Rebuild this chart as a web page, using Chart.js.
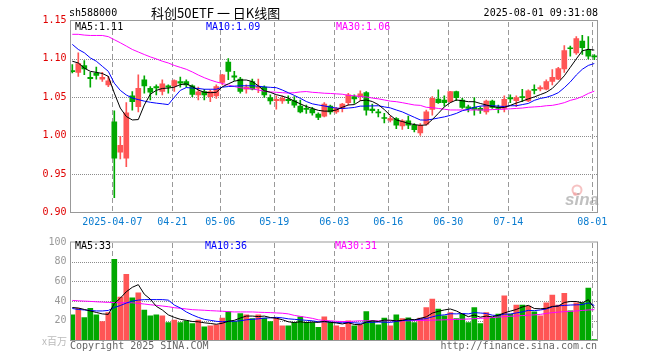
<!DOCTYPE html>
<html>
<head>
<meta charset="utf-8">
<script src="https://cdn.jsdelivr.net/npm/chart.js@4.4.1/dist/chart.umd.min.js"></script>
<style>
  html, body { margin: 0; padding: 0; background: #fff; }
  #wrap { position: relative; width: 660px; height: 360px; overflow: hidden; }
  canvas { position: absolute; left: 0; }
  #kline { top: 0; }
  #volume { top: 232px; }
</style>
</head>
<body>
<div id="wrap">
  <canvas id="kline" width="660" height="232"></canvas>
  <canvas id="volume" width="660" height="128"></canvas>
</div>
<script>
const symbol = 'sh588000';
const title = '科创50ETF 一 日K线图';
const stamp = '2025-08-01 09:31:08';

const dates = [
  '2025-03-26', '2025-03-27', '2025-03-28', '2025-03-31', '2025-04-01', '2025-04-02', '2025-04-03', '2025-04-07', '2025-04-08', '2025-04-09',
  '2025-04-10', '2025-04-11', '2025-04-14', '2025-04-15', '2025-04-16', '2025-04-17', '2025-04-18', '2025-04-21', '2025-04-22', '2025-04-23',
  '2025-04-24', '2025-04-25', '2025-04-28', '2025-04-29', '2025-04-30', '2025-05-06', '2025-05-07', '2025-05-08', '2025-05-09', '2025-05-12',
  '2025-05-13', '2025-05-14', '2025-05-15', '2025-05-16', '2025-05-19', '2025-05-20', '2025-05-21', '2025-05-22', '2025-05-23', '2025-05-26',
  '2025-05-27', '2025-05-28', '2025-05-29', '2025-05-30', '2025-06-03', '2025-06-04', '2025-06-05', '2025-06-06', '2025-06-09', '2025-06-10',
  '2025-06-11', '2025-06-12', '2025-06-13', '2025-06-16', '2025-06-17', '2025-06-18', '2025-06-19', '2025-06-20', '2025-06-23', '2025-06-24',
  '2025-06-25', '2025-06-26', '2025-06-27', '2025-06-30', '2025-07-01', '2025-07-02', '2025-07-03', '2025-07-04', '2025-07-07', '2025-07-08',
  '2025-07-09', '2025-07-10', '2025-07-11', '2025-07-14', '2025-07-15', '2025-07-16', '2025-07-17', '2025-07-18', '2025-07-21', '2025-07-22',
  '2025-07-23', '2025-07-24', '2025-07-25', '2025-07-28', '2025-07-29', '2025-07-30', '2025-07-31', '2025-08-01'
];

const opens = [
  1.0845, 1.0825, 1.0912, 1.0759, 1.0816, 1.0737, 1.0662, 1.018, 0.9785, 0.9706,
  1.0518, 1.0377, 1.0728, 1.0618, 1.064, 1.0575, 1.0649, 1.0649, 1.0706, 1.0706,
  1.0649, 1.053, 1.0575, 1.0509, 1.0518, 1.0693, 1.096, 1.0781, 1.0737, 1.0605,
  1.0706, 1.0618, 1.0632, 1.0496, 1.0456, 1.0452, 1.0474, 1.0456, 1.0386, 1.0355,
  1.0346, 1.028, 1.0254, 1.0386, 1.0311, 1.0355, 1.043, 1.0509, 1.0509, 1.0561,
  1.0346, 1.0311, 1.0237, 1.0202, 1.0224, 1.0127, 1.0193, 1.0136, 1.0035, 1.0149,
  1.0342, 1.0478, 1.0465, 1.0443, 1.0575, 1.0465, 1.0377, 1.0368, 1.0355, 1.0311,
  1.0452, 1.0368, 1.0355, 1.0496, 1.0456, 1.0509, 1.0452, 1.0605, 1.061, 1.0605,
  1.0706, 1.0737, 1.0868, 1.1145, 1.1079, 1.1232, 1.1114, 1.1035
];
const highs = [
  1.0925, 1.1079, 1.0978, 1.0825, 1.0895, 1.0825, 1.0772, 1.0325, 0.9991, 1.043,
  1.0575, 1.0794, 1.0781, 1.064, 1.0662, 1.0728, 1.0662, 1.0728, 1.0763, 1.0728,
  1.0662, 1.0632, 1.0605, 1.0597, 1.0662, 1.0798, 1.1004, 1.0838, 1.0759, 1.0662,
  1.0737, 1.0737, 1.0649, 1.0531, 1.0518, 1.0518, 1.0518, 1.0509, 1.0465, 1.0399,
  1.0368, 1.0298, 1.043, 1.0399, 1.0368, 1.0421, 1.0553, 1.0531, 1.0583, 1.0575,
  1.0412, 1.0342, 1.029, 1.0254, 1.0237, 1.021, 1.0254, 1.0158, 1.0158, 1.0333,
  1.0509, 1.0597, 1.0518, 1.0578, 1.058, 1.0487, 1.0399, 1.0496, 1.0377, 1.0465,
  1.0465, 1.0399, 1.0518, 1.0531, 1.0518, 1.0605, 1.0597, 1.0662, 1.0649, 1.0728,
  1.086, 1.089, 1.1175, 1.1167, 1.129, 1.1307, 1.129, 1.1057
];
const lows = [
  1.0816, 1.0772, 1.0794, 1.0632, 1.0737, 1.0706, 1.064, 0.9193, 0.9697, 0.9597,
  1.0333, 1.0311, 1.0553, 1.0465, 1.0531, 1.0531, 1.0553, 1.0575, 1.0632, 1.0632,
  1.0509, 1.0465, 1.0465, 1.0443, 1.0487, 1.0662, 1.0728, 1.072, 1.0553, 1.0553,
  1.0597, 1.0561, 1.05, 1.0412, 1.0346, 1.0421, 1.0421, 1.0368, 1.0298, 1.029,
  1.0268, 1.021, 1.0246, 1.0281, 1.029, 1.0311, 1.0399, 1.0421, 1.0456, 1.0268,
  1.0298, 1.0246, 1.0167, 1.018, 1.0092, 1.0083, 1.0092, 1.0048, 1.0004, 1.0136,
  1.0268, 1.0421, 1.0386, 1.043, 1.0456, 1.0355, 1.0311, 1.0268, 1.029, 1.0281,
  1.0355, 1.0298, 1.0311, 1.043, 1.0377, 1.0443, 1.0443, 1.0544, 1.0583, 1.0597,
  1.0662, 1.0728, 1.0825, 1.1035, 1.1057, 1.1057, 1.1, 1.0991
];
const closes = [
  1.0835, 1.0939, 1.0868, 1.0741, 1.0785, 1.0759, 1.0715, 0.9706, 0.9873, 1.0298,
  1.0443, 1.0618, 1.0649, 1.0566, 1.0623, 1.0675, 1.0632, 1.0719, 1.0684, 1.0662,
  1.0539, 1.057, 1.0531, 1.0575, 1.064, 1.0794, 1.0838, 1.0763, 1.0575, 1.0632,
  1.0605, 1.064, 1.0531, 1.0452, 1.0474, 1.0487, 1.0456, 1.0399, 1.0311, 1.0342,
  1.0298, 1.0237, 1.0412, 1.0311, 1.0355, 1.0412, 1.0531, 1.0478, 1.0544, 1.0333,
  1.0325, 1.0298, 1.0224, 1.0224, 1.0136, 1.0193, 1.0136, 1.0079, 1.0136, 1.0311,
  1.0487, 1.043, 1.043, 1.0575, 1.0496, 1.0368, 1.0355, 1.0342, 1.0333, 1.0452,
  1.0368, 1.0355, 1.0474, 1.0478, 1.0496, 1.0496, 1.0583, 1.0588, 1.0627, 1.0706,
  1.0759, 1.0873, 1.1109, 1.1132, 1.1263, 1.1145, 1.1035, 1.1026
];

// moving averages as drawn on the chart
const ma5 = [
  1.097, 1.0947, 1.088, 1.0838, 1.0825, 1.081, 1.0773, 1.0555, 1.036, 1.025,
  1.0205, 1.021, 1.040, 1.054, 1.059, 1.0615, 1.062, 1.0632, 1.0665, 1.0675,
  1.064, 1.0595, 1.0565, 1.056, 1.0565, 1.0636, 1.0675, 1.071, 1.0725, 1.0725,
  1.0705, 1.065, 1.0585, 1.0565, 1.0535, 1.0515, 1.049, 1.045, 1.0415, 1.038,
  1.0355, 1.033, 1.032, 1.032, 1.0335, 1.037, 1.040, 1.0405, 1.0455, 1.0465,
  1.0445, 1.0405, 1.034, 1.0265, 1.0205, 1.0185, 1.016, 1.0145, 1.0135, 1.014,
  1.021, 1.029, 1.0375, 1.043, 1.0465, 1.0455, 1.0443, 1.0443, 1.042, 1.040,
  1.038, 1.0368, 1.0368, 1.0395, 1.0425, 1.045, 1.048, 1.0505, 1.0535, 1.0565,
  1.0615, 1.0695, 1.078, 1.089, 1.1, 1.1105, 1.1125, 1.1115
];
const ma10 = [
  1.1189, 1.1123, 1.108, 1.1013, 1.097, 1.0904, 1.0838, 1.0684, 1.059, 1.053,
  1.049, 1.047, 1.045, 1.0435, 1.0424, 1.0415, 1.0405, 1.050, 1.059, 1.0627,
  1.062, 1.0615, 1.0605, 1.0605, 1.0605, 1.0632, 1.064, 1.0645, 1.065, 1.065,
  1.065, 1.0645, 1.0635, 1.063, 1.0625, 1.0595, 1.056, 1.0525, 1.0487, 1.0445,
  1.0415, 1.040, 1.0387, 1.0373, 1.036, 1.0354, 1.036, 1.0368, 1.0385, 1.0386,
  1.0388, 1.039, 1.0375, 1.0362, 1.0335, 1.031, 1.0275, 1.024, 1.0205, 1.0203,
  1.0215, 1.023, 1.0245, 1.0265, 1.029, 1.0325, 1.0345, 1.037, 1.0385, 1.039,
  1.039, 1.0385, 1.038, 1.039, 1.039, 1.0405, 1.042, 1.046, 1.0485, 1.050,
  1.0525, 1.056, 1.0625, 1.070, 1.079, 1.0865, 1.0915, 1.094
];
const ma30 = [
  1.132, 1.132, 1.131, 1.1305, 1.1305, 1.1305, 1.129, 1.125, 1.121, 1.1167,
  1.1123, 1.109, 1.1057, 1.1026, 1.10, 1.097, 1.0947, 1.0915, 1.089, 1.0865,
  1.083, 1.079, 1.0755, 1.0725, 1.070, 1.068, 1.066, 1.064, 1.0625, 1.0615,
  1.061, 1.0595, 1.058, 1.057, 1.0565, 1.056, 1.0555, 1.056, 1.057, 1.0575,
  1.0565, 1.056, 1.0553, 1.055, 1.0545, 1.054, 1.0525, 1.052, 1.051, 1.0505,
  1.049, 1.048, 1.0465, 1.045, 1.0443, 1.043, 1.0415, 1.040, 1.0395, 1.037,
  1.0365, 1.0355, 1.0345, 1.0335, 1.0335, 1.0335, 1.0335, 1.0335, 1.0335, 1.0335,
  1.034, 1.0342, 1.0345, 1.035, 1.0355, 1.036, 1.037, 1.0375, 1.038, 1.039,
  1.0395, 1.041, 1.043, 1.046, 1.048, 1.051, 1.055, 1.058
];

// volume, millions
const volumes = [
  26, 32.7, 23.3, 32.7, 26, 19.3, 28.3, 82.3, 44, 67.3,
  43.3, 48.3, 31, 25, 26, 25, 18.3, 20.7, 18.3, 20,
  17.3, 20.7, 14, 15, 16, 22.7, 29.3, 19.3, 27.3, 26,
  22.3, 26, 22.7, 19.3, 22.7, 15, 15, 18.3, 24, 18.3,
  18.3, 13.3, 24, 18.3, 15, 13.3, 20, 15, 16, 29.3,
  20, 16, 22.7, 15, 26, 22.3, 23, 18.3, 22.7, 33.3,
  42, 32, 25, 28.3, 22.3, 26.7, 18.3, 33.3, 17.3, 28.3,
  22.7, 26.7, 45.3, 26.7, 36, 36, 35, 29, 25, 38.3,
  46, 36, 48, 30, 38.3, 38.3, 53.3, 1
];
const volMa5 = [
  33.5, 33, 31.5, 30, 28.5, 27, 26.5, 37.5, 43, 49.5,
  54, 56.7, 47, 42, 34.7, 31, 26, 23.5, 21.5, 20.5,
  19.3, 19, 18, 17.3, 16.5, 17.5, 19.5, 20.5, 22.8, 24.8,
  24.8, 24.3, 24.8, 23.3, 22.6, 21.1, 19, 18.2, 19, 18.2,
  18.7, 18.4, 19.5, 18.4, 17.8, 16.8, 18, 16.3, 16, 18.7,
  20, 19.3, 20.7, 20.6, 20, 20.4, 21.9, 21, 22.5, 24,
  27.8, 29.6, 31, 32, 30, 27, 24.2, 25.8, 23.7, 24.8,
  24, 25.6, 28, 29.8, 31.5, 34, 35.7, 32.5, 32.2, 32.7,
  34.6, 34.9, 38.6, 39.6, 39.6, 38.1, 41.5, 32.8
];
const volMa10 = [
  32.5, 31.5, 31, 30.5, 30, 30, 30.5, 33.5, 35.5, 38,
  40, 41, 41.5, 41.5, 41.5, 41.5, 41, 36, 33, 29,
  26, 23.5, 21.5, 20.5, 19.5, 19, 19.5, 19.5, 20, 21,
  21.5, 22, 22.7, 23, 23.5, 23, 22, 21.5, 21, 20.5,
  20, 19, 19, 18.8, 18.2, 18, 18.3, 18, 17.5, 18.3,
  18.5, 18.7, 18.6, 18.4, 19.3, 20.2, 20.6, 21, 21.6, 22.2,
  24, 25.5, 26, 27.2, 27, 27.4, 27, 28.3, 27.9, 27.4,
  25.7, 25.2, 26.8, 26.8, 28, 29, 30.6, 30.3, 31, 32,
  34.2, 35.2, 35.6, 36, 36.2, 36.4, 38.2, 35.6
];
const volMa30 = [
  40.7, 40.3, 40, 39.7, 39.3, 39, 38.7, 38.5, 38.3, 38.3,
  38.3, 37.7, 37, 36.3, 35.7, 35, 34.3, 33.3, 32.7, 32,
  31.3, 31, 30.7, 30.3, 30, 29.7, 29.3, 29, 29, 29,
  29, 28.7, 28.5, 28.3, 28, 27.7, 27, 25.5, 24.5, 23.5,
  22.5, 21, 20.3, 20, 19.5, 19.3, 19.3, 19.7, 20, 20,
  20, 20, 20, 20, 20, 20, 20, 20.2, 20.3, 20.5,
  20.7, 20.8, 21, 21.2, 21.4, 21.6, 21.8, 22.2, 22.5, 22.8,
  23.3, 23.8, 24.2, 24.6, 25, 25.3, 25.7, 26, 26.5, 27.5,
  28.3, 28.8, 29.3, 29.6, 30, 30.5, 31, 31.3
];

const priceTicks = [0.90, 0.95, 1.00, 1.05, 1.10, 1.15];
const volumeTicks = [0, 20, 40, 60, 80, 100];
const dateTicks = ['2025-04-07', '2025-04-21', '2025-05-06', '2025-05-19', '2025-06-03', '2025-06-16', '2025-06-30', '2025-07-14', '2025-08-01'];

const UP = '#ff5555';
const DOWN = '#00a800';
const MONO = '"DejaVu Sans Mono", monospace';
const tickIndex = dateTicks.map(d => dates.indexOf(d));
const candleColors = closes.map((c, i) => (c >= opens[i] ? UP : DOWN));

Chart.defaults.font.family = MONO;
Chart.defaults.font.size = 10;
Chart.defaults.animation = false;

function xAxis(showLabels) {
    return {
        type: 'linear',
        min: -0.3,
        max: 87.533,
        offset: false,
        display: true,
        grid: { display: false, drawTicks: false, offset: false },
        border: { display: false },
        afterBuildTicks: s => { s.ticks = tickIndex.map(v => ({ value: v })); },
        afterFit: s => { s.height = showLabels ? 19.5 : 0; },
        ticks: {
            display: showLabels,
            color: '#0a7cd0',
            padding: 4,
            labelOffset: -2,
            maxRotation: 0,
            autoSkip: false,
            callback: (v, i) => (i === 0 ? dates[v] : dates[v].slice(5))
        }
    };
}

function maLine(values, color) {
    return {
        type: 'line',
        data: values.map((v, i) => ({ x: i, y: v })),
        borderColor: color,
        borderWidth: 1,
        pointRadius: 0,
        tension: 0,
        order: 0
    };
}

// dotted rows at the value ticks, dashed columns at the date ticks
function drawGrid(ctx, area, xs, ys, yValues) {
    const left = Math.ceil(area.left);
    const right = Math.floor(area.right);
    const top = Math.ceil(area.top);
    const bottom = Math.floor(area.bottom);
    ctx.save();
    ctx.fillStyle = '#8c8c8c';
    yValues.forEach(v => {
        const py = Math.round(ys.getPixelForValue(v));
        for (let px = left + 1; px < right; px += 2) ctx.fillRect(px, py, 1, 1);
    });
    ctx.fillStyle = '#999';
    xs.ticks.forEach(t => {
        const px = Math.round(xs.getPixelForValue(t.value) - 2);
        for (let py = top + 1; py < bottom; py += 8) ctx.fillRect(px, py, 1, Math.min(5, bottom - py));
    });
    ctx.restore();
}

function drawBox(ctx, area) {
    ctx.save();
    ctx.strokeStyle = '#999';
    ctx.lineWidth = 1;
    ctx.strokeRect(area.left, area.top, area.right - area.left, area.bottom - area.top);
    ctx.restore();
}

function text(ctx, str, x, y, color, align, font) {
    ctx.fillStyle = color;
    ctx.textAlign = align || 'left';
    ctx.textBaseline = 'middle';
    ctx.font = font || '10px ' + MONO;
    ctx.fillText(str, x, y);
}

const klineDecor = {
    id: 'klineDecor',
    beforeDatasetsDraw(chart) {
        const { ctx, chartArea, scales } = chart;
        drawGrid(ctx, chartArea, scales.x, scales.y, priceTicks.slice(1, -1));
        // sina watermark
        ctx.save();
        ctx.strokeStyle = 'rgba(235, 120, 120, 0.45)';
        ctx.lineWidth = 2;
        ctx.beginPath();
        ctx.arc(577, 190, 4.5, 0, Math.PI * 2);
        ctx.stroke();
        ctx.fillStyle = 'rgba(235, 120, 120, 0.35)';
        ctx.beginPath();
        ctx.arc(575, 194, 2, 0, Math.PI * 2);
        ctx.fill();
        text(ctx, 'sina', 565, 200, 'rgba(150, 150, 150, 0.6)', 'left', 'italic bold 17px "Liberation Sans", sans-serif');
        ctx.restore();
    },
    afterDraw(chart) {
        const { ctx, chartArea } = chart;
        drawBox(ctx, chartArea);
        ctx.save();
        text(ctx, symbol, 69, 13, '#000');
        text(ctx, title, 151, 13, '#000', 'left', '13px "Noto Sans CJK SC", sans-serif');
        text(ctx, stamp, 598, 13, '#000', 'right');
        text(ctx, 'MA5:' + ma5[ma5.length - 1].toFixed(2), 75, 27, '#000');
        text(ctx, 'MA10:' + ma10[ma10.length - 1].toFixed(2), 206, 27, '#0000ff');
        text(ctx, 'MA30:' + ma30[ma30.length - 1].toFixed(2), 336, 27, '#ff00ff');
        ctx.restore();
    }
};

const volumeDecor = {
    id: 'volumeDecor',
    beforeDatasetsDraw(chart) {
        const { ctx, chartArea, scales } = chart;
        drawGrid(ctx, chartArea, scales.x, scales.y, volumeTicks.slice(1, -1));
    },
    afterDraw(chart) {
        const { ctx, chartArea } = chart;
        drawBox(ctx, chartArea);
        ctx.save();
        text(ctx, 'MA5:' + Math.round(volMa5[volMa5.length - 1]), 75, 14, '#000');
        text(ctx, 'MA10:' + Math.round(volMa10[volMa10.length - 1]), 205, 14, '#0000ff');
        text(ctx, 'MA30:' + Math.round(volMa30[volMa30.length - 1]), 335, 14, '#ff00ff');
        text(ctx, 'x百万', 67, 109, '#bbb', 'right', '10px "Noto Sans CJK SC", sans-serif');
        text(ctx, 'Copyright 2025 SINA.COM', 70, 114, '#666');
        text(ctx, 'http://finance.sina.com.cn', 597, 114, '#666', 'right');
        ctx.restore();
    }
};

new Chart(document.getElementById('kline'), {
    type: 'bar',
    data: {
        datasets: [
            maLine(ma5, '#000000'),
            maLine(ma10, '#0000ff'),
            maLine(ma30, '#ff00ff'),
            {
                data: dates.map((d, i) => ({ x: i, y: [opens[i], closes[i]] })),
                backgroundColor: candleColors,
                barThickness: 5,
                minBarLength: 1,
                grouped: false,
                order: 1
            },
            {
                data: dates.map((d, i) => ({ x: i, y: [lows[i], highs[i]] })),
                backgroundColor: candleColors,
                barThickness: 1,
                minBarLength: 1,
                grouped: false,
                order: 1
            }
        ]
    },
    options: {
        responsive: false,
        devicePixelRatio: 1,
        layout: { padding: { top: 20.5, right: 62.5, left: 0, bottom: 0 } },
        plugins: { legend: { display: false }, tooltip: { enabled: false } },
        scales: {
            x: xAxis(true),
            y: {
                type: 'linear',
                min: 0.9,
                max: 1.15,
                beginAtZero: false,
                grid: { display: false, drawTicks: false },
                border: { display: false },
                afterBuildTicks: s => { s.ticks = priceTicks.map(v => ({ value: v })); },
                afterFit: s => { s.width = 70.5; },
                ticks: { color: '#e00000', padding: 4, callback: v => v.toFixed(2) }
            }
        }
    },
    plugins: [klineDecor]
});

new Chart(document.getElementById('volume'), {
    type: 'bar',
    data: {
        datasets: [
            maLine(volMa5, '#000000'),
            maLine(volMa10, '#0000ff'),
            maLine(volMa30, '#ff00ff'),
            {
                data: volumes.map((v, i) => ({ x: i, y: v })),
                backgroundColor: candleColors,
                barThickness: 5,
                minBarLength: 1,
                grouped: false,
                order: 1
            }
        ]
    },
    options: {
        responsive: false,
        devicePixelRatio: 1,
        layout: { padding: { top: 8.5, right: 62.5, left: 0, bottom: 19.5 } },
        plugins: { legend: { display: false }, tooltip: { enabled: false } },
        scales: {
            x: xAxis(false),
            y: {
                type: 'linear',
                min: 0,
                max: 100,
                grid: { display: false, drawTicks: false },
                border: { display: false },
                afterBuildTicks: s => { s.ticks = volumeTicks.map(v => ({ value: v })); },
                afterFit: s => { s.width = 70.5; },
                ticks: { color: '#999', padding: 4, callback: v => (v === 0 ? '' : v) }
            }
        }
    },
    plugins: [volumeDecor]
});
</script>
</body>
</html>
